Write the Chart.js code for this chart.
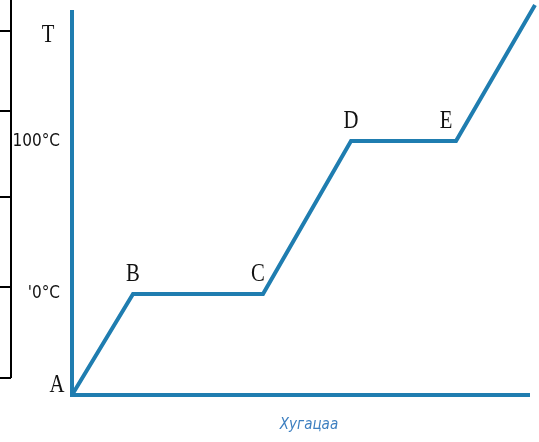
<!DOCTYPE html>
<html>
<head>
<meta charset="utf-8">
<script src="https://cdn.jsdelivr.net/npm/chart.js@4"></script>
<style>
  html, body { margin: 0; padding: 0; background: #fff; }
  #wrap { width: 539px; height: 442px; }
</style>
</head>
<body>
<div id="wrap"><canvas id="heatChart"></canvas></div>
<script>
'use strict';

// Heating curve: time (arbitrary units) vs temperature
const pointNames = ['A', 'B', 'C', 'D', 'E', ''];
const timeValues = [0, 61, 191, 279, 384, 463];
const tempValues = [-66, 0, 0, 100, 100, 189];

// Temperature tick labels on the left
const tempTicks = [0, 100, 169];
const tempTickLabels = ['\'0°C', '100°C', 'T'];

const axisTitle = 'Хугацаа';
const lineColor = '#1f7db0';

const points = [];
for (let i = 0; i < timeValues.length; ++i) {
	points.push({ x: timeValues[i], y: tempValues[i] });
}

// Axis lines, letters and labels
const decorPlugin = {
	id: 'decor',
	afterDraw(chart) {
		const ctx = chart.ctx;
		const xs = chart.scales.x;
		const ys = chart.scales.y;
		const x0 = xs.getPixelForValue(0);
		const y0 = ys.getPixelForValue(tempValues[0]);
		const serif = '"Liberation Serif", "DejaVu Serif", serif';

		ctx.save();

		// cropped table edge at the far left
		ctx.strokeStyle = '#000';
		ctx.lineWidth = 2;
		ctx.beginPath();
		ctx.moveTo(11, 0);
		ctx.lineTo(11, 378);
		[31, 111, 197, 287, 378].forEach(function (y) {
			ctx.moveTo(0, y);
			ctx.lineTo(11, y);
		});
		ctx.stroke();

		// axes
		ctx.strokeStyle = lineColor;
		ctx.lineWidth = 4;
		ctx.beginPath();
		ctx.moveTo(x0, 10);
		ctx.lineTo(x0, y0);
		ctx.lineTo(xs.getPixelForValue(458), y0);
		ctx.stroke();

		// point letters, drawn a bit taller than wide
		ctx.fillStyle = '#111';
		ctx.textAlign = 'center';
		ctx.textBaseline = 'middle';
		const offsets = [[-15, -10], [0, -20], [-5, -20], [0, -20], [-10, -20]];
		const drawLetter = function (txt, px, py) {
			ctx.save();
			ctx.translate(px, py);
			ctx.scale(0.9, 1.1);
			ctx.font = '23px ' + serif;
			ctx.fillText(txt, 0, 0);
			ctx.restore();
		};
		for (let i = 0; i < offsets.length; ++i) {
			const px = xs.getPixelForValue(timeValues[i]) + offsets[i][0];
			const py = ys.getPixelForValue(tempValues[i]) + offsets[i][1];
			drawLetter(pointNames[i], px, py);
		}

		// temperature labels
		for (let i = 0; i < tempTicks.length; ++i) {
			const py = ys.getPixelForValue(tempTicks[i]);
			if (tempTickLabels[i] === 'T') {
				drawLetter('T', 48, py);
			} else {
				ctx.font = '17px "DejaVu Sans Condensed", "Liberation Sans Narrow", sans-serif';
				ctx.textAlign = 'right';
				ctx.fillText(tempTickLabels[i], 60, py);
				ctx.textAlign = 'center';
			}
		}

		// time axis title
		ctx.fillStyle = '#3d7fc0';
		ctx.font = 'italic 15px "DejaVu Sans Condensed", "Liberation Sans Narrow", sans-serif';
		ctx.textAlign = 'center';
		ctx.fillText(axisTitle, xs.getPixelForValue(237), 425);

		ctx.restore();
	}
};

const heatChart = new Chart(document.getElementById('heatChart'), {
	type: 'line',
	data: {
		datasets: [
			{
				data: points,
				borderColor: lineColor,
				borderWidth: 4,
				pointRadius: 0,
				tension: 0,
				fill: false,
				clip: false
			}
		]
	},
	options: {
		responsive: true,
		maintainAspectRatio: false,
		animation: false,
		layout: { padding: { left: 72, right: 4, top: 5, bottom: 47 } },
		plugins: {
			legend: { display: false },
			tooltip: { enabled: false }
		},
		scales: {
			x: { type: 'linear', display: false, min: 0, max: 463 },
			y: { type: 'linear', display: false, min: -66, max: 189 }
		}
	},
	plugins: [decorPlugin]
});
</script>
</body>
</html>
